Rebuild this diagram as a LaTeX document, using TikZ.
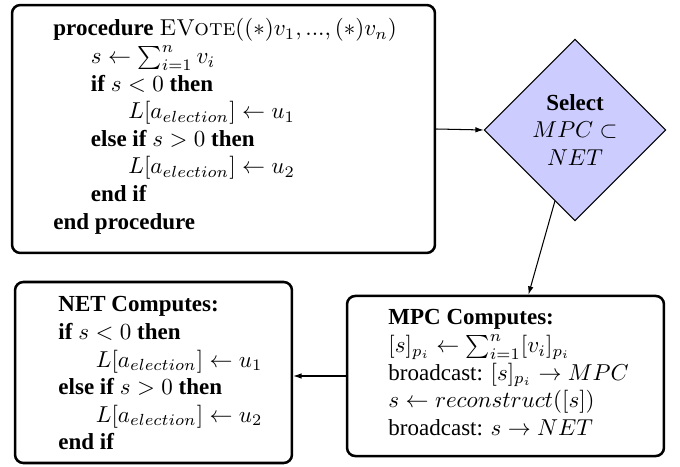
\documentclass[tikz,border=0pt]{standalone}
\usepackage{fontspec}
\setmainfont{Liberation Serif}
\usetikzlibrary{shapes.geometric,arrows.meta}
\newlength{\ind}
\setlength{\ind}{16.3pt}
\newcommand{\evname}{{\fontfamily{lmr}\selectfont\textsc{EVote}}}
\begin{document}
\begin{tikzpicture}[x=0.4348pt,y=-0.4348pt,
  box/.style={draw, line width=1.1pt, rounded corners=3.6pt, inner sep=0pt},
  txt/.style={anchor=base west, inner sep=0pt},
  conn/.style={-{Latex[length=3.6pt,width=2.4pt]}, line width=0.45pt},
  sel/.style={diamond, draw, fill=blue!20, aspect=1, minimum width=79pt,
    minimum height=79pt, inner sep=0pt, align=center, line width=0.45pt}]
\useasboundingbox (0,0) rectangle (680,467);

% boxes
\node[box, minimum width=183.9pt, minimum height=107.8pt] (top) at (223.5,129) {};
\node[box, minimum width=120.4pt, minimum height=78.7pt] (net) at (153.5,372.5) {};
\node[box, minimum width=137.8pt, minimum height=69.6pt] (mpc) at (505.5,376) {};
\node[sel] (sel) at (575,130) {\textbf{Select}\\$MPC\subset$\\$NET$};

% texts
\node[txt] (code) at (53,36) {\begin{tabular}[t]{@{}l@{}}
\textbf{procedure} \evname$((*)v_1, ..., (*)v_n)$\\
\hspace*{\ind}$s \leftarrow \sum_{i=1}^{n} v_i$\\
\hspace*{\ind}\textbf{if} $s<0$ \textbf{then}\\
\hspace*{2\ind}$L[a_{election}] \leftarrow u_1$\\
\hspace*{\ind}\textbf{else if} $s>0$ \textbf{then}\\
\hspace*{2\ind}$L[a_{election}] \leftarrow u_2$\\
\hspace*{\ind}\textbf{end if}\\
\textbf{end procedure}
\end{tabular}};

\node[txt] (nettext) at (58,312) {\begin{tabular}[t]{@{}l@{}}
\textbf{NET Computes:}\\
\textbf{if} $s<0$ \textbf{then}\\
\hspace*{\ind}$L[a_{election}] \leftarrow u_1$\\
\textbf{else if} $s>0$ \textbf{then}\\
\hspace*{\ind}$L[a_{election}] \leftarrow u_2$\\
\textbf{end if}
\end{tabular}};

\node[txt] (mpctext) at (388,325) {\begin{tabular}[t]{@{}l@{}}
\textbf{MPC Computes:}\\
$[s]_{p_i} \leftarrow \sum_{i=1}^{n} [v_i]_{p_i}$\\
broadcast: $[s]_{p_i} \rightarrow MPC$\\
$s \leftarrow reconstruct([s])$\\
broadcast: $s \rightarrow NET$
\end{tabular}};

% connectors
\draw[conn] (top.east) -- (sel.west);
\draw[conn] (sel) -- (mpc);
\draw[conn] (mpc.west) -- (net.east |- mpc.west);
\end{tikzpicture}
\end{document}
